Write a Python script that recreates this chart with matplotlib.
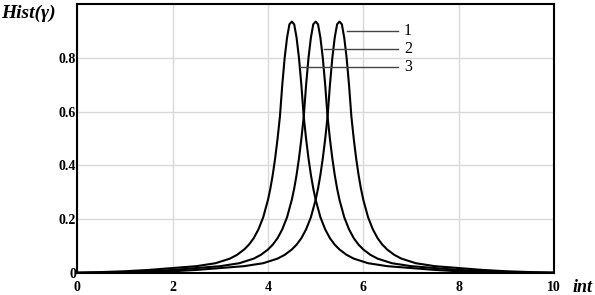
import matplotlib
matplotlib.use('Agg')
import matplotlib.pyplot as plt

# curve 3 (peak near 4.5)
x3 = [0.0, 0.5, 1.0, 1.5, 2.0, 2.5, 2.9, 3.2, 3.35, 3.5, 3.6, 3.7, 3.8, 3.9,
      4.0, 4.05, 4.1, 4.15, 4.2, 4.25, 4.3, 4.35, 4.4, 4.45, 4.5, 4.55, 4.6,
      4.65, 4.7, 4.75, 4.8, 4.85, 4.9, 4.95, 5.0, 5.1, 5.2, 5.3, 5.4, 5.5,
      5.65, 5.8, 6.1, 6.5, 7.0, 7.5, 8.0, 8.5, 9.0, 9.5, 10.0]
y3 = [0.001, 0.003, 0.006, 0.011, 0.018, 0.025, 0.036, 0.053, 0.067, 0.087,
      0.105, 0.129, 0.162, 0.207, 0.272, 0.314, 0.365, 0.426, 0.498, 0.581,
      0.70, 0.80, 0.875, 0.925, 0.935, 0.925, 0.875, 0.80, 0.70, 0.581,
      0.498, 0.426, 0.365, 0.314, 0.272, 0.207, 0.162, 0.129, 0.105, 0.087,
      0.067, 0.053, 0.036, 0.025, 0.018, 0.011, 0.006, 0.003, 0.001, 0.0,
      0.0]

# curve 2 (peak near 5.0)
x2 = [0.0, 0.5, 1.0, 1.5, 2.0, 2.5, 3.0, 3.4, 3.7, 3.85, 4.0, 4.1, 4.2, 4.3,
      4.4, 4.5, 4.55, 4.6, 4.65, 4.7, 4.75, 4.8, 4.85, 4.9, 4.95, 5.0, 5.05,
      5.1, 5.15, 5.2, 5.25, 5.3, 5.35, 5.4, 5.45, 5.5, 5.6, 5.7, 5.8, 5.9,
      6.0, 6.15, 6.3, 6.6, 7.0, 7.5, 8.0, 8.5, 9.0, 9.5, 10.0]
y2 = [0.0, 0.001, 0.003, 0.006, 0.011, 0.018, 0.025, 0.036, 0.053, 0.067,
      0.087, 0.105, 0.129, 0.162, 0.207, 0.272, 0.314, 0.365, 0.426, 0.498,
      0.581, 0.70, 0.80, 0.875, 0.925, 0.935, 0.925, 0.875, 0.80, 0.70,
      0.581, 0.498, 0.426, 0.365, 0.314, 0.272, 0.207, 0.162, 0.129, 0.105,
      0.087, 0.067, 0.053, 0.036, 0.025, 0.018, 0.011, 0.006, 0.003, 0.001,
      0.0]

# curve 1 (peak near 5.5)
x1 = [0.0, 0.5, 1.0, 1.5, 2.0, 2.5, 3.0, 3.5, 3.9, 4.2, 4.35, 4.5, 4.6, 4.7,
      4.8, 4.9, 5.0, 5.05, 5.1, 5.15, 5.2, 5.25, 5.3, 5.35, 5.4, 5.45, 5.5,
      5.55, 5.6, 5.65, 5.7, 5.75, 5.8, 5.85, 5.9, 5.95, 6.0, 6.1, 6.2, 6.3,
      6.4, 6.5, 6.65, 6.8, 7.1, 7.5, 8.0, 8.5, 9.0, 9.5, 10.0]
y1 = [0.0, 0.0, 0.001, 0.003, 0.006, 0.011, 0.018, 0.025, 0.036, 0.053,
      0.067, 0.087, 0.105, 0.129, 0.162, 0.207, 0.272, 0.314, 0.365, 0.426,
      0.498, 0.581, 0.70, 0.80, 0.875, 0.925, 0.935, 0.925, 0.875, 0.80,
      0.70, 0.581, 0.498, 0.426, 0.365, 0.314, 0.272, 0.207, 0.162, 0.129,
      0.105, 0.087, 0.067, 0.053, 0.036, 0.025, 0.018, 0.011, 0.006, 0.003,
      0.001]

labels = ['1', '2', '3']
# where each leader line leaves its curve (x, y)
leaders = [(5.66, 0.90), (5.18, 0.833), (4.67, 0.767)]
xticks = [0, 2, 4, 6, 8, 10]
yticks = [0, 0.2, 0.4, 0.6, 0.8]

fig = plt.figure(figsize=(5.95, 2.95), dpi=100)
ax = fig.add_axes([0.130, 0.075, 0.801, 0.911])

for xs, ys in [(x1, y1), (x2, y2), (x3, y3)]:
    ax.plot(xs, ys, color='black', lw=1.5)

for lab, (lx, ly) in zip(labels, leaders):
    ax.plot([lx, 6.73], [ly, ly], color='#444444', lw=1.0)
    ax.text(6.85, ly, lab, family='Liberation Serif', fontsize=11.5,
            va='center', ha='left')

ax.set_xlim(0, 10)
ax.set_ylim(0, 1.0)
ax.set_xticks(xticks)
ax.set_xticklabels([str(v) for v in xticks], family='Liberation Serif',
                   fontsize=10, fontweight='bold')
ax.set_yticks(yticks)
ax.set_yticklabels(['0', '0.2', '0.4', '0.6', '0.8'],
                   family='Liberation Serif', fontsize=10, fontweight='bold')
ax.tick_params(axis='x', length=0, pad=6)
ax.tick_params(axis='y', length=0, pad=1)
ax.grid(color='#d9d9d9', lw=1.0)
for s in ax.spines.values():
    s.set_linewidth(1.5)

fig.text(0.002, 0.955, 'Hist(γ)', family='Liberation Serif',
         fontsize=14, style='italic', fontweight='bold', va='center')
fig.text(0.963, 0.026, 'int', family='Liberation Serif', fontsize=13,
         style='italic', fontweight='bold', va='center')

fig.savefig('out.png', dpi=100)
